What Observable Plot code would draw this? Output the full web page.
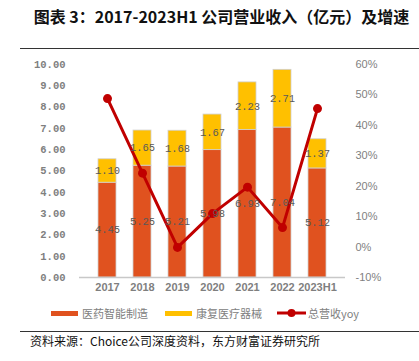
<!DOCTYPE html>
<html>
<head>
<meta charset="utf-8">
<script src="https://cdn.jsdelivr.net/npm/d3@7"></script>
<script src="https://cdn.jsdelivr.net/npm/@observablehq/plot@0.6"></script>
<style>
  html, body { margin: 0; padding: 0; background: #fff; }
  #wrap { position: relative; width: 419px; height: 361px; overflow: hidden; font-family: "Noto Sans CJK SC", sans-serif; }
  #title { position: absolute; left: 0; width: 419px; top: 4px; text-align: center; padding-left: 24px; box-sizing: border-box; font-size: 16px; font-weight: bold; color: #111; white-space: nowrap; }
  .rule { position: absolute; left: 20px; right: 0; height: 0; border-top: 1.5px solid #333; }
  #chart { position: absolute; left: 0; top: 50px; }
  #legend { position: absolute; top: 304px; left: 0; width: 419px; font-size: 11px; color: #808080; }
  .item { position: absolute; top: 0; display: flex; align-items: center; height: 18px; white-space: nowrap; }
  .sw { display: inline-block; width: 27px; height: 5px; margin-right: 4px; }
  #source { position: absolute; left: 30px; top: 332px; font-size: 12px; color: #111; white-space: nowrap; }
</style>
</head>
<body>
<div id="wrap">
  <div id="title">图表 3：2017-2023H1 公司营业收入（亿元）及增速</div>
  <div class="rule" style="top:48px"></div>
  <div id="chart"></div>
  <div id="legend"></div>
  <div class="rule" style="top:331px"></div>
  <div id="source">资料来源：Choice公司深度资料，东方财富证券研究所</div>
</div>
<script>
const years = ["2017", "2018", "2019", "2020", "2021", "2022", "2023H1"];
const seriesNames = ["医药智能制造", "康复医疗器械", "总营收yoy"];
const pharmaValues = [4.45, 5.25, 5.21, 5.98, 6.93, 7.04, 5.12];
const rehabValues = [1.10, 1.65, 1.68, 1.67, 2.23, 2.71, 1.37];
const yoyValues = [48.8, 24.3, -0.1, 11.0, 19.7, 6.4, 45.5];
const leftTicks = [0, 1, 2, 3, 4, 5, 6, 7, 8, 9, 10];
const rightTicks = [-10, 0, 10, 20, 30, 40, 50, 60];
const colors = ["#E0521F", "#FFC000", "#C00000"];

// Right axis domain [-10, 60] mapped onto left axis domain [0, 10]
const rightMin = -10, rightMax = 60, leftMax = 10;
const toLeft = p => (p - rightMin) / (rightMax - rightMin) * leftMax;
const toRight = v => v / leftMax * (rightMax - rightMin) + rightMin;

const barData = [];
years.forEach((yr, i) => {
  barData.push({year: yr, series: seriesNames[0], value: pharmaValues[i]});
  barData.push({year: yr, series: seriesNames[1], value: rehabValues[i]});
});
const lineData = years.map((yr, i) => ({year: yr, yoy: yoyValues[i]}));

const plot = Plot.plot({
  width: 419,
  height: 250,
  marginTop: 14,
  marginBottom: 23,
  marginLeft: 79,
  marginRight: 74,
  style: {fontFamily: "Liberation Sans, Arial, sans-serif", background: "transparent"},
  x: {domain: years, padding: 0.48, label: null},
  y: {domain: [0, leftMax], label: null},
  color: {domain: seriesNames.slice(0, 2), range: colors.slice(0, 2)},
  marks: [
    Plot.barY(barData, {x: "year", y: "value", fill: "series", stroke: "#d0d0d0", strokeWidth: 0.8}),
    Plot.ruleY([0], {stroke: "#c8c8c8", strokeWidth: 1.5}),
    Plot.axisX({tickSize: 0, tickPadding: 6, fontSize: 11, fill: "#7f7f7f", fontWeight: "bold", label: null}),
    Plot.axisY({anchor: "left", ticks: leftTicks, tickSize: 0, tickPadding: 14, tickFormat: d => d.toFixed(2),
      fontSize: 10.5, fill: "#7f7f7f", fontWeight: "bold", fontFamily: "Liberation Mono, DejaVu Sans Mono, monospace", label: null}),
    Plot.axisY({anchor: "right", ticks: rightTicks.map(toLeft), tickSize: 0, tickPadding: 10,
      tickFormat: d => Math.round(toRight(d)) + "%", fontSize: 11, fill: "#7f7f7f", label: null}),
    Plot.line(lineData, {x: "year", y: d => toLeft(d.yoy), stroke: colors[2], strokeWidth: 3}),
    Plot.dot(lineData, {x: "year", y: d => toLeft(d.yoy), fill: colors[2], r: 4.5}),
    Plot.text(barData, Plot.stackY({x: "year", y: "value", z: "series", text: d => d.value.toFixed(2),
      fill: "#595959", fontSize: 10.5, fontFamily: "Liberation Mono, DejaVu Sans Mono, monospace"}))
  ]
});
document.getElementById("chart").appendChild(plot);

const legend = document.getElementById("legend");
const legendX = [51, 165, 277];
seriesNames.forEach((name, i) => {
  const item = document.createElement("div");
  item.className = "item";
  item.style.left = legendX[i] + "px";
  if (i < 2) {
    item.innerHTML = `<span class="sw" style="background:${colors[i]}"></span><span>${name}</span>`;
  } else {
    item.innerHTML = `<svg width="29" height="10" style="margin-right:2px"><line x1="0" y1="5" x2="29" y2="5" stroke="${colors[i]}" stroke-width="3"/><circle cx="14.5" cy="5" r="4" fill="${colors[i]}"/></svg><span>${name}</span>`;
  }
  legend.appendChild(item);
});
</script>
</body>
</html>
